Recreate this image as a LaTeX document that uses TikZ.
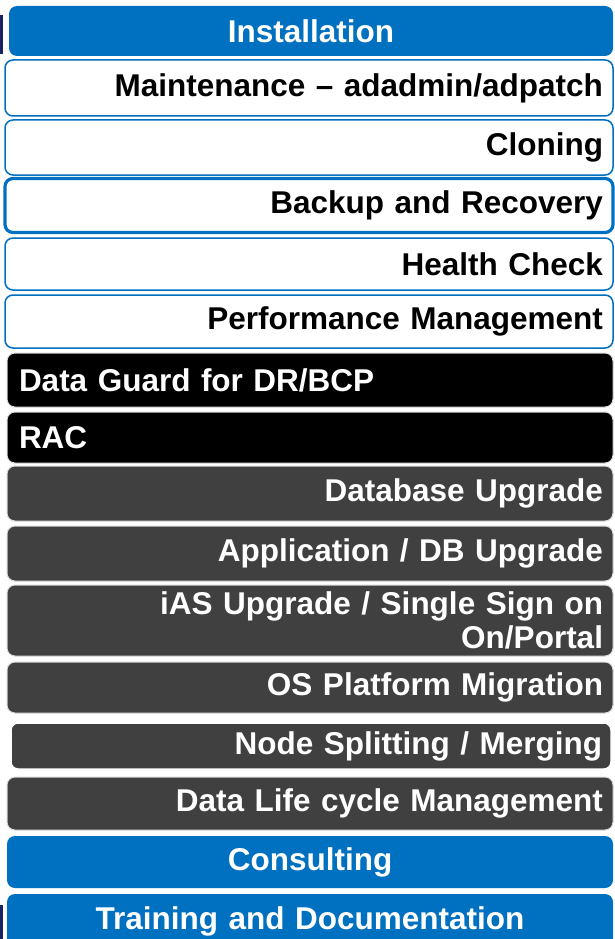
\documentclass[tikz,border=0pt]{standalone}
\usepackage{fontspec}
\setmainfont{Liberation Sans}
\definecolor{ovblue}{RGB}{0,112,192}
\definecolor{ovgrey}{RGB}{64,64,64}
\definecolor{ovnavy}{RGB}{24,36,96}
\tikzset{
    row/.style={rectangle, rounded corners=8pt, inner xsep=10pt, inner ysep=0pt,
        font=\bfseries\fontsize{31.5}{34}\selectfont},
    bluerow/.style={row, fill=ovblue, text=white, align=center, text width=584pt},
    whiterow/.style={row, fill=white, draw=ovblue, line width=1.5pt, text=black, align=right, text width=588pt},
    blackrow/.style={row, fill=black, draw=gray!30, line width=1pt, text=white, align=left, inner xsep=12pt, text width=582pt},
    darkrow/.style={row, fill=ovgrey, draw=gray!30, line width=1pt, text=white, align=right, text width=586pt}
}
\begin{document}
\begin{tikzpicture}[x=1pt, y=-1pt]
        \useasboundingbox[fill=white] (0, 0) rectangle (614, 939);
        \fill[ovnavy] (0, 15) rectangle (3, 54);
        \fill[ovnavy] (0, 905) rectangle (3, 939);
        \node[bluerow, minimum height=50pt] (install) at (311, 31) {Installation};
        \node[whiterow, minimum height=56pt] (maint) at (309, 88) {Maintenance -- adadmin/adpatch};
        \node[whiterow, minimum height=55pt] (cloning) at (309, 147.5) {Cloning};
        \node[whiterow, minimum height=54pt, line width=3.2pt] (backup) at (309, 205.5) {Backup and Recovery};
        \node[whiterow, minimum height=52pt] (health) at (309, 264) {Health Check};
        \node[whiterow, minimum height=53pt] (perf) at (309, 321.5) {Performance Management};
        \node[blackrow, minimum height=54pt] (dataguard) at (310, 380) {Data Guard for DR/BCP};
        \node[blackrow, minimum height=51pt] (rac) at (310, 437.5) {RAC};
        \node[darkrow, minimum height=55pt] (dbupgrade) at (310, 493.5) {Database Upgrade};
        \node[darkrow, minimum height=55pt] (appupgrade) at (310, 553.5) {Application / DB Upgrade};
        \node[darkrow, minimum height=71pt] (iasupgrade) at (310, 620.5) {iAS Upgrade / Single Sign on\\On/Portal};
        \node[darkrow, minimum height=51pt] (osmigration) at (310, 687.5) {OS Platform Migration};
        \node[darkrow, minimum height=48pt, text width=582pt, draw=white, line width=3.5pt] (nodesplit) at (311, 746) {Node Splitting / Merging};
        \node[darkrow, minimum height=53pt] (lifecycle) at (310, 803.5) {Data Life cycle Management};
        \node[bluerow, minimum height=52pt, text width=586pt] (consulting) at (310, 862) {Consulting};
        \node[bluerow, minimum height=54pt, text width=586pt] (training) at (310, 921) {Training and Documentation};
\end{tikzpicture}
\end{document}
